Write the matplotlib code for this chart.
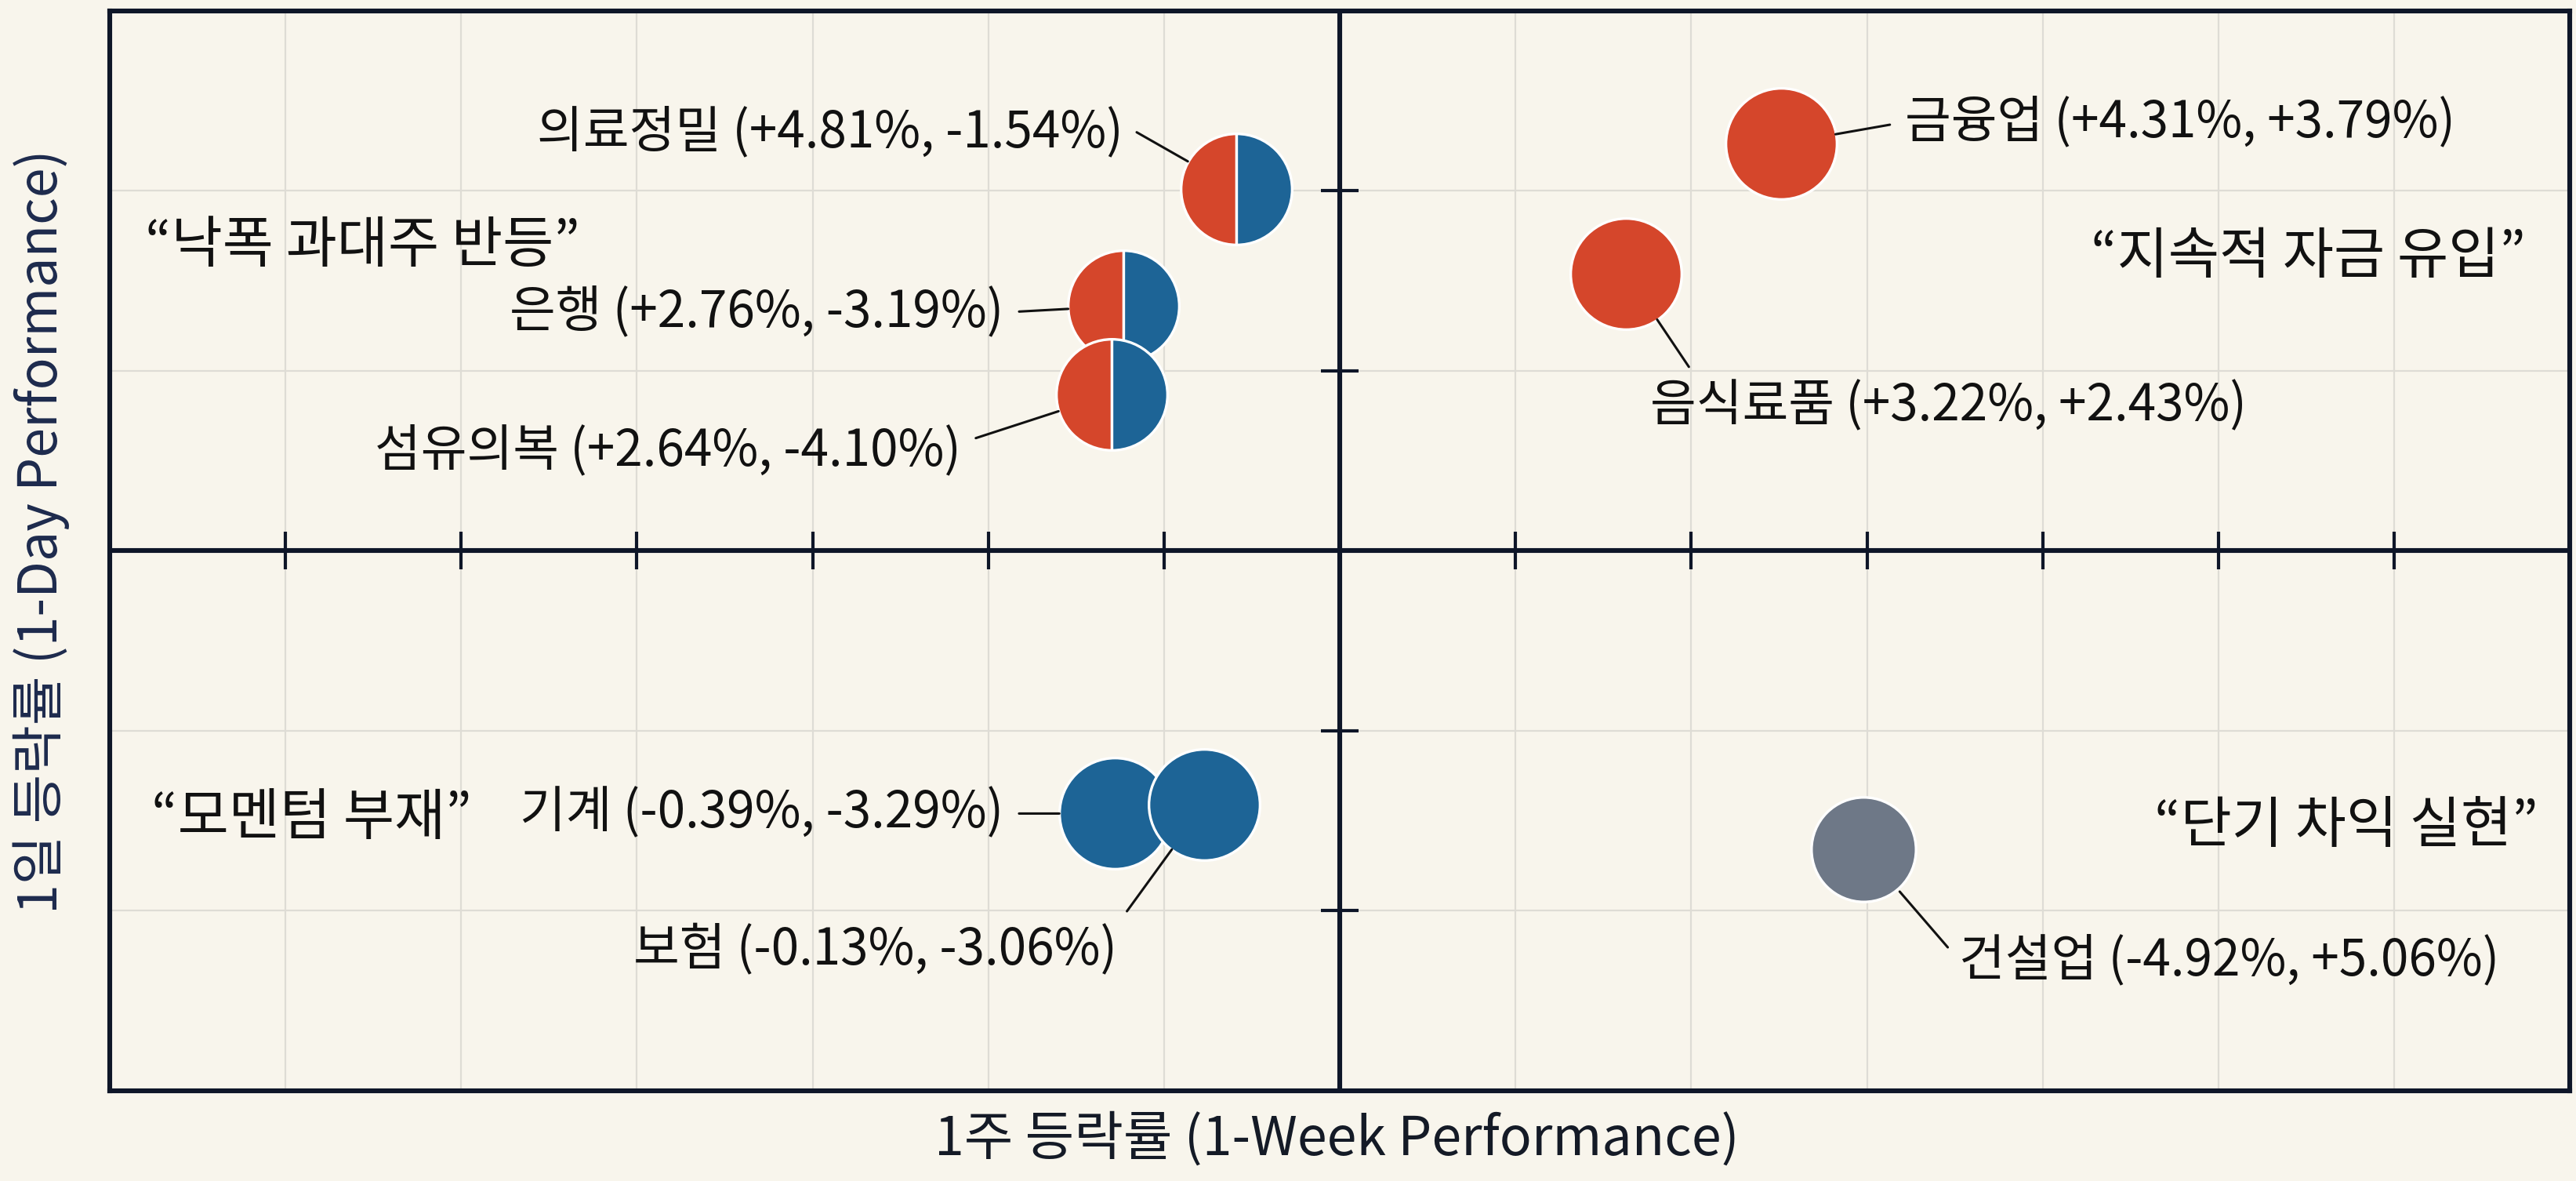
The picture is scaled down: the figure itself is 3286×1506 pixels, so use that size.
import matplotlib.pyplot as plt

plt.rcParams['font.family'] = ['Noto Sans CJK KR', 'DejaVu Sans']

# 업종 데이터 (점 위치는 그림에서 읽은 값, 라벨 값은 그대로)
sectors = ['의료정밀', '은행', '섬유의복', '기계', '보험', '금융업', '음식료품', '건설업']
val_a = [4.81, 2.76, 2.64, -0.39, -0.13, 4.31, 3.22, -4.92]
val_b = [-1.54, -3.19, -4.10, -3.29, -3.06, 3.79, 2.43, 5.06]
week_pos = [-0.59, -1.23, -1.30, -1.28, -0.77, 2.51, 1.63, 2.98]
day_pos = [2.01, 1.36, 0.87, -1.46, -1.41, 2.26, 1.54, -1.66]
group = ['mixed', 'mixed', 'mixed', 'down', 'down', 'up', 'up', 'flat']

quadrant_names = ['“낙폭 과대주 반등”', '“지속적 자금 유입”', '“모멘텀 부재”', '“단기 차익 실현”']

RED = '#d5462b'
BLUE = '#1d6496'
GRAY = '#6e7887'
BG = '#f8f5ec'
NAVY = '#0e1628'
TXT = '#111111'

# 라벨 배치: (dx, dy pt, ha, relpos)
label_layout = {
    '의료정밀': (-52, 26, 'right', (1, 0.65)),
    '은행': (-55, -3, 'right', (1, 0.5)),
    '섬유의복': (-69, -26, 'right', (1, 0.65)),
    '기계': (-51, 0, 'right', (1, 0.5)),
    '보험': (-40, -67, 'right', (1, 1)),
    '금융업': (57, 10, 'left', (0, 0.5)),
    '음식료품': (11, -61, 'left', (0.08, 1)),
    '건설업': (44, -51, 'left', (0, 0.5)),
}

fig = plt.figure(figsize=(16.43, 7.53), dpi=200, facecolor=BG)
ax = fig.add_axes([0.0426, 0.0764, 0.955, 0.9146])
ax.set_facecolor(BG)
ax.set_xlim(-7, 7)
ax.set_ylim(-3, 3)

# 격자
ax.set_xticks(range(-6, 7))
ax.set_yticks([-2, -1, 1, 2])
ax.grid(color='#dedcd5', lw=0.8)
ax.set_axisbelow(True)
ax.tick_params(length=0, labelbottom=False, labelleft=False)
for s in ax.spines.values():
    s.set_color(NAVY)
    s.set_linewidth(2.2)

# 중심축 + 눈금
ax.axhline(0, color=NAVY, lw=2.2, zorder=2)
ax.axvline(0, color=NAVY, lw=2.2, zorder=2)
xt = [t for t in range(-6, 7) if t != 0]
yt = [-2, -1, 1, 2]
ax.plot(xt, [0] * len(xt), ls='none', marker='|', ms=17, mew=1.5, color=NAVY, zorder=2)
ax.plot([0] * len(yt), yt, ls='none', marker='_', ms=17, mew=1.5, color=NAVY, zorder=2)

# 점
ms = 51
for i, name in enumerate(sectors):
    x, y, g = week_pos[i], day_pos[i], group[i]
    if g == 'mixed':
        ax.plot(x, y, 'o', ms=ms, fillstyle='left', markerfacecolor=RED,
                markerfacecoloralt=BLUE, markeredgecolor='white', mew=1.2, zorder=3 + i)
    else:
        c = {'up': RED, 'down': BLUE, 'flat': GRAY}[g]
        ax.plot(x, y, 'o', ms=ms if g != 'flat' else ms - 3, color=c,
                markeredgecolor='white', mew=1.2, zorder=3 + i)

    dx, dy, ha, rp = label_layout[name]
    label = f'{name} ({val_a[i]:+.2f}%, {val_b[i]:+.2f}%)'
    ax.annotate(label, xy=(x, y), xytext=(dx, dy), textcoords='offset points',
                ha=ha, va='center', fontsize=23, fontweight='medium', color=TXT, zorder=20,
                arrowprops=dict(arrowstyle='-', color=TXT, lw=1.1,
                                shrinkA=5, shrinkB=ms / 2, relpos=rp))

# 사분면 이름
qkw = dict(transform=ax.transAxes, va='center', fontsize=25.5, fontweight='medium', color=TXT)
ax.text(0.0143, 0.782, quadrant_names[0], ha='left', **qkw)
ax.text(0.982, 0.772, quadrant_names[1], ha='right', **qkw)
ax.text(0.017, 0.252, quadrant_names[2], ha='left', **qkw)
ax.text(0.987, 0.245, quadrant_names[3], ha='right', **qkw)

fig.text(0.519, 0.035, '1주 등락률 (1-Week Performance)', ha='center', va='center',
         fontsize=24.5, fontweight='medium', color='#141a26')
fig.text(0.016, 0.55, '1일 등락률 (1-Day Performance)', ha='center', va='center', rotation=90,
         fontsize=24.5, fontweight='medium', color='#1d2a4d')

fig.savefig('out.png', dpi=200, facecolor=BG)
